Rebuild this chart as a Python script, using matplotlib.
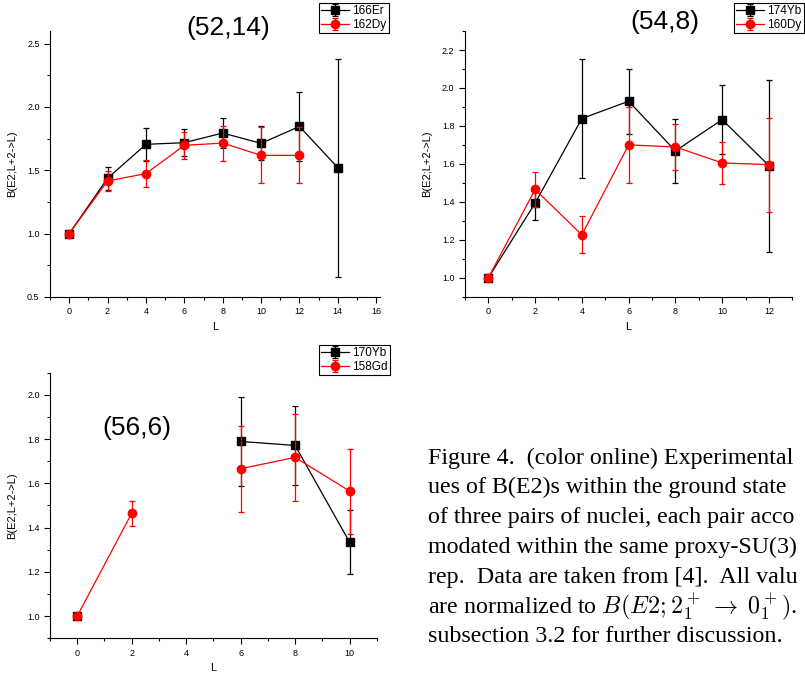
import numpy as np
import matplotlib.pyplot as plt
from matplotlib.ticker import MultipleLocator

plt.rcParams['font.family'] = ['Liberation Sans', 'DejaVu Sans']
plt.rcParams['mathtext.fontset'] = 'cm'

# (52,14): 166Er / 162Dy
L1 = [0, 2, 4, 6, 8, 10, 12, 14]
er166 = [1.0, 1.437, 1.705, 1.718, 1.794, 1.713, 1.846, 1.521]
er166_err = [0.0, 0.09, 0.13, 0.105, 0.118, 0.135, 0.27, 0.86]
dy162 = [1.0, 1.416, 1.474, 1.697, 1.715, 1.618, 1.618, np.nan]
dy162_err = [0.0, 0.08, 0.105, 0.107, 0.138, 0.22, 0.22, np.nan]

# (54,8): 174Yb / 160Dy
L2 = [0, 2, 4, 6, 8, 10, 12]
yb174 = [1.0, 1.393, 1.839, 1.93, 1.668, 1.833, 1.591]
yb174_err = [0.0, 0.09, 0.313, 0.17, 0.167, 0.18, 0.453]
dy160 = [1.0, 1.465, 1.226, 1.70, 1.689, 1.605, 1.596]
dy160_err = [0.0, 0.094, 0.098, 0.2, 0.12, 0.112, 0.248]

# (56,6): 170Yb / 158Gd
L3 = [0, 2, 4, 6, 8, 10]
yb170 = [1.0, np.nan, np.nan, 1.789, 1.771, 1.334]
yb170_err = [0.0, np.nan, np.nan, 0.2, 0.177, 0.145]
gd158 = [1.0, 1.465, np.nan, 1.666, 1.717, 1.565]
gd158_err = [0.0, 0.057, np.nan, 0.194, 0.195, 0.192]

caption = [
    "Figure 4.  (color online) Experimental val-",
    "ues of B(E2)s within the ground state band",
    "of three pairs of nuclei, each pair accom-",
    "modated within the same proxy-SU(3) ir-",
    "rep.  Data are taken from [4].  All values",
    r"are normalized to $B(E2;2_1^+\;\rightarrow\;0_1^+)$.",
    "subsection 3.2 for further discussion.",
]

fig = plt.figure(figsize=(8.05, 6.76), dpi=100)


def panel(rect, L, yb, yberr, ra, raerr, names, xlim, ylim, ymaj, ymin, xmax_tick):
    ax = fig.add_axes(rect)
    ax.errorbar(L, yb, yerr=yberr, color='black', marker='s', ms=5.5, lw=0.9,
                elinewidth=0.9, capsize=2.5, capthick=0.9, label=names[0], zorder=3)
    ax.errorbar(L, ra, yerr=raerr, color='red', marker='o', ms=6, lw=0.9,
                elinewidth=0.9, capsize=2.5, capthick=0.9, label=names[1], zorder=4)
    ax.set_xlim(*xlim)
    ax.set_ylim(*ylim)
    ax.xaxis.set_major_locator(MultipleLocator(2))
    ax.xaxis.set_minor_locator(MultipleLocator(1))
    ax.yaxis.set_major_locator(MultipleLocator(ymaj))
    ax.yaxis.set_minor_locator(MultipleLocator(ymin))
    ax.set_xticks(list(range(0, xmax_tick + 1, 2)))
    ax.spines['top'].set_visible(False)
    ax.spines['right'].set_visible(False)
    ax.tick_params(which='both', direction='out', labelsize=6.5, width=0.8)
    ax.tick_params(which='major', length=4)
    ax.tick_params(which='minor', length=2.5)
    ax.yaxis.set_major_formatter(plt.FormatStrFormatter('%.1f'))
    ax.set_xlabel('L', fontsize=8, labelpad=4)
    ax.set_ylabel('B(E2;L+2->L)', fontsize=8, labelpad=7)
    return ax


ax1 = panel([0.0621, 0.5607, 0.41, 0.3935], L1, er166, er166_err, dy162, dy162_err,
            ['166Er', '162Dy'], (-1, 16.2), (0.5, 2.6), 0.5, 0.25, 16)
ax2 = panel([0.5776, 0.5611, 0.4066, 0.393], L2, yb174, yb174_err, dy160, dy160_err,
            ['174Yb', '160Dy'], (-1, 13), (0.9, 2.3), 0.2, 0.1, 12)
ax3 = panel([0.0621, 0.0558, 0.406, 0.393], L3, yb170, yb170_err, gd158, gd158_err,
            ['170Yb', '158Gd'], (-1, 11), (0.9, 2.1), 0.2, 0.1, 10)

for ax, (x, y) in zip([ax1, ax2, ax3], [(319 / 805, 1 - 3 / 676), (734 / 805, 1 - 3 / 676),
                                         (319 / 805, 1 - 345 / 676)]):
    leg = ax.legend(loc='upper left', bbox_to_anchor=(x, y), bbox_transform=fig.transFigure,
                    fontsize=8.5, frameon=True, fancybox=False, edgecolor='black',
                    framealpha=1, borderpad=0.2, handlelength=2.3, handletextpad=0.3,
                    labelspacing=0.15, borderaxespad=0)
    leg.get_frame().set_linewidth(0.8)

fig.text(228 / 805, 1 - 28 / 676, '(52,14)', fontsize=19, ha='center', va='center')
fig.text(665 / 805, 1 - 22 / 676, '(54,8)', fontsize=19, ha='center', va='center')
fig.text(137 / 805, 1 - 428 / 676, '(56,6)', fontsize=19, ha='center', va='center')

# caption: the page crop cuts the lines at the right edge, so keep only what fits
renderer = fig.canvas.get_renderer()
W, H = 805.0, 676.0
x0 = 428
for i, line in enumerate(caption):
    y = 1 - (458 + i * 29.8) / H
    t = fig.text(x0 / W, y, line, fontsize=17.3, family='Liberation Serif',
                 ha='left', va='center')
    s = line
    while '$' not in s and t.get_window_extent(renderer).x1 > 803:
        s = s[:-1].rstrip()
        t.set_text(s)

fig.savefig('out.png', dpi=100)
